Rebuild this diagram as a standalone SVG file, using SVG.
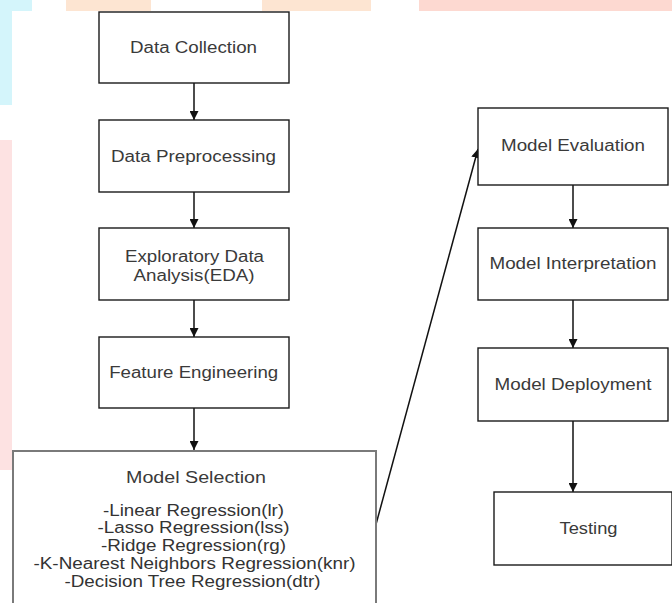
<svg xmlns="http://www.w3.org/2000/svg" width="672" height="603" viewBox="0 0 672 603">
  <style>
    .box { fill: #ffffff; stroke: #1a1a1a; stroke-width: 1.4; }
    .box-wide { fill: #ffffff; stroke: #7a7a7a; stroke-width: 2; }
    .label { font-family: "Liberation Sans", Arial, sans-serif; font-size: 16px; fill: #3a3a3a; text-anchor: middle; }
    .item { font-family: "Liberation Sans", Arial, sans-serif; font-size: 16px; fill: #333333; text-anchor: middle; }
    .edge { fill: none; stroke: #111111; stroke-width: 1.5; }
  </style>
  <defs>
    <marker id="head" viewBox="0 0 10 10" refX="10" refY="5" markerWidth="9" markerHeight="9" markerUnits="userSpaceOnUse" orient="auto">
      <path d="M0,0 L10,5 L0,10 z" fill="#111111"/>
    </marker>
  </defs>

  <rect width="672" height="603" fill="#ffffff"/>

  <!-- faint background bands -->
  <g id="background">
    <rect x="0" y="0" width="32" height="11" fill="#d4f5fb"/>
    <rect x="0" y="0" width="12" height="105" fill="#d4f5fb"/>
    <rect x="66" y="0" width="85" height="11" fill="#fde5d2"/>
    <rect x="262" y="0" width="109" height="11" fill="#fde5d2"/>
    <rect x="419" y="0" width="253" height="11" fill="#fdd9d1"/>
    <rect x="0" y="140" width="12" height="330" fill="#fde2e2"/>
  </g>

  <g id="connectors">
    <line class="edge" x1="194" y1="83" x2="194" y2="120" marker-end="url(#head)"/>
    <line class="edge" x1="194" y1="192" x2="194" y2="228" marker-end="url(#head)"/>
    <line class="edge" x1="194" y1="300" x2="194" y2="337" marker-end="url(#head)"/>
    <line class="edge" x1="194" y1="408" x2="194" y2="450" marker-end="url(#head)"/>
    <line class="edge" x1="375" y1="528" x2="478" y2="149" marker-end="url(#head)"/>
    <line class="edge" x1="573" y1="185" x2="573" y2="228" marker-end="url(#head)"/>
    <line class="edge" x1="573" y1="300" x2="573" y2="348" marker-end="url(#head)"/>
    <line class="edge" x1="573" y1="421" x2="573" y2="492" marker-end="url(#head)"/>
  </g>

  <g id="data-collection">
    <rect class="box" x="99" y="12" width="190" height="71"/>
    <text class="label" x="193.5" y="52.5" textLength="127" lengthAdjust="spacingAndGlyphs">Data Collection</text>
  </g>

  <g id="data-preprocessing">
    <rect class="box" x="99" y="120" width="190" height="72"/>
    <text class="label" x="193.5" y="161.5" textLength="165" lengthAdjust="spacingAndGlyphs">Data Preprocessing</text>
  </g>

  <g id="eda">
    <rect class="box" x="99" y="228" width="190" height="72"/>
    <text class="label" x="194.5" y="261.5" textLength="139" lengthAdjust="spacingAndGlyphs">Exploratory Data</text>
    <text class="label" x="194" y="281" textLength="121" lengthAdjust="spacingAndGlyphs">Analysis(EDA)</text>
  </g>

  <g id="feature-engineering">
    <rect class="box" x="99" y="337" width="190" height="71"/>
    <text class="label" x="193.7" y="378" textLength="169" lengthAdjust="spacingAndGlyphs">Feature Engineering</text>
  </g>

  <g id="model-selection">
    <rect class="box-wide" x="13" y="451" width="363" height="170"/>
    <text class="label" x="196" y="483" textLength="140" lengthAdjust="spacingAndGlyphs">Model Selection</text>
    <text class="item" x="193.5" y="515.5" textLength="181" lengthAdjust="spacingAndGlyphs">-Linear Regression(lr)</text>
    <text class="item" x="193.5" y="533.3" textLength="192" lengthAdjust="spacingAndGlyphs">-Lasso Regression(lss)</text>
    <text class="item" x="193.5" y="551" textLength="185" lengthAdjust="spacingAndGlyphs">-Ridge Regression(rg)</text>
    <text class="item" x="194.5" y="568.8" textLength="322" lengthAdjust="spacingAndGlyphs">-K-Nearest Neighbors Regression(knr)</text>
    <text class="item" x="192.5" y="586.5" textLength="256" lengthAdjust="spacingAndGlyphs">-Decision Tree Regression(dtr)</text>
  </g>

  <g id="model-evaluation">
    <rect class="box" x="478" y="108" width="190" height="77"/>
    <text class="label" x="573" y="151" textLength="144" lengthAdjust="spacingAndGlyphs">Model Evaluation</text>
  </g>

  <g id="model-interpretation">
    <rect class="box" x="478" y="228" width="190" height="72"/>
    <text class="label" x="573" y="269" textLength="167" lengthAdjust="spacingAndGlyphs">Model Interpretation</text>
  </g>

  <g id="model-deployment">
    <rect class="box" x="478" y="348" width="190" height="73"/>
    <text class="label" x="573" y="389.5" textLength="157" lengthAdjust="spacingAndGlyphs">Model Deployment</text>
  </g>

  <g id="testing">
    <rect class="box" x="494" y="492" width="178" height="73"/>
    <text class="label" x="588.5" y="533.5" textLength="58" lengthAdjust="spacingAndGlyphs">Testing</text>
  </g>
</svg>
